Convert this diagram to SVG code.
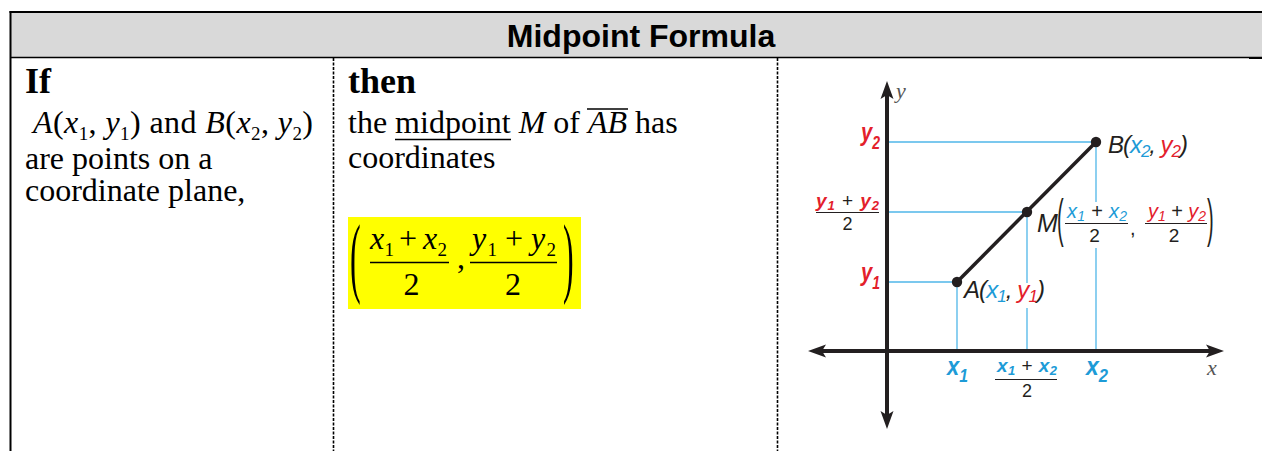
<svg xmlns="http://www.w3.org/2000/svg" xmlns:xlink="http://www.w3.org/1999/xlink" width="1262" height="451" viewBox="0 0 1262 451">
<style>
.serif{font-family:"Liberation Serif","Times New Roman",serif;fill:#000}
.body{font-size:32px}
.bold{font-weight:bold;font-size:36px}
.it{font-style:italic}
.sans{font-family:"Liberation Sans",Arial,sans-serif}
.dark{fill:#231f20}
.red{fill:#e3202b}
.blue{fill:#1d9bd7}
.guide{stroke:#4fb6e8;stroke-width:1.3;fill:none}
.divider{stroke:#000;stroke-width:1.6;stroke-dasharray:3 1.5}
.bar{stroke:#000;stroke-width:1.5}
.gbar{stroke:#231f20;stroke-width:1.2}
</style>
<defs>
<path id="ah" d="M0,0 L6.5,18 L0,14 L-6.5,18 Z" fill="#231f20"/>
</defs>
<rect width="1262" height="451" fill="#fff"/>

<g id="table">
<rect x="11" y="13" width="1251" height="44" fill="#d9d9d9"/>
<line x1="9.5" y1="12" x2="1262" y2="12" stroke="#000" stroke-width="2"/>
<line x1="10.5" y1="11" x2="10.5" y2="451" stroke="#000" stroke-width="2"/>
<line x1="10" y1="57.5" x2="1262" y2="57.5" stroke="#000" stroke-width="1.5"/>
<rect x="1249" y="57" width="13" height="2" fill="#000"/>
<line class="divider" x1="333.5" y1="58" x2="333.5" y2="451"/>
<line class="divider" x1="777.5" y1="58" x2="777.5" y2="451"/>
</g>

<g id="header">
<text x="641" y="47" text-anchor="middle" class="sans" font-weight="bold" font-size="32" fill="#000">Midpoint Formula</text>
</g>

<g id="col-if">
<text x="25" y="93" class="serif bold">If</text>
<text x="33" y="133" class="serif body" textLength="280" lengthAdjust="spacing"><tspan class="it">A</tspan>(<tspan class="it">x</tspan><tspan font-size="19" dy="7">1</tspan><tspan dy="-7">, </tspan><tspan class="it">y</tspan><tspan font-size="19" dy="7">1</tspan><tspan dy="-7">) and </tspan><tspan class="it">B</tspan>(<tspan class="it">x</tspan><tspan font-size="19" dy="7">2</tspan><tspan dy="-7">, </tspan><tspan class="it">y</tspan><tspan font-size="19" dy="7">2</tspan><tspan dy="-7">)</tspan></text>
<text x="25" y="169" class="serif body">are points on a</text>
<text x="25" y="201" class="serif body">coordinate plane,</text>
</g>

<g id="col-then">
<text x="348" y="93" class="serif bold">then</text>
<text x="348" y="133" class="serif body">the midpoint <tspan class="it">M</tspan> of <tspan class="it">AB</tspan> has</text>
<line x1="395" y1="139.5" x2="511" y2="139.5" stroke="#000" stroke-width="1.5"/>
<line x1="587" y1="109" x2="628" y2="109" stroke="#000" stroke-width="1.5"/>
<text x="348" y="168" class="serif body">coordinates</text>
</g>

<g id="formula">
<rect x="348" y="217" width="233" height="92" fill="#ffff00"/>
<text class="serif" font-size="32" transform="translate(350,286) scale(1,2.8)">(</text>
<text class="serif" font-size="32" y="249"><tspan x="370" class="it">x</tspan><tspan x="384.5" dy="7" font-size="19">1</tspan><tspan x="399" dy="-7">+</tspan><tspan x="423" class="it">x</tspan><tspan x="437.5" dy="7" font-size="19">2</tspan></text>
<line class="bar" x1="370" y1="262.5" x2="449" y2="262.5"/>
<text class="serif" font-size="32" x="411.5" y="295" text-anchor="middle">2</text>
<text class="serif" font-size="32" x="457" y="268">,</text>
<text class="serif" font-size="32" y="249"><tspan x="472" class="it">y</tspan><tspan x="487.5" dy="7" font-size="19">1</tspan><tspan x="505" dy="-7">+</tspan><tspan x="531" class="it">y</tspan><tspan x="546.5" dy="7" font-size="19">2</tspan></text>
<line class="bar" x1="470" y1="262.5" x2="557" y2="262.5"/>
<text class="serif" font-size="32" x="513" y="295" text-anchor="middle">2</text>
<text class="serif" font-size="32" transform="translate(563,286) scale(1,2.8)">)</text>
</g>

<g id="graph">
<g id="guides">
<line class="guide" x1="889" y1="142" x2="1096" y2="142"/>
<line class="guide" x1="889" y1="212" x2="1027" y2="212"/>
<line class="guide" x1="889" y1="282" x2="957" y2="282"/>
<line class="guide" x1="957" y1="282" x2="957" y2="349"/>
<line class="guide" x1="1027" y1="212" x2="1027" y2="283"/>
<line class="guide" x1="1027" y1="308" x2="1027" y2="349"/>
<line class="guide" x1="1096" y1="142" x2="1096" y2="202"/>
<line class="guide" x1="1096" y1="248" x2="1096" y2="349"/>
</g>
<g id="axes">
<line x1="887" y1="94" x2="887" y2="416" stroke="#231f20" stroke-width="4"/>
<line x1="821" y1="351" x2="1211" y2="351" stroke="#231f20" stroke-width="4"/>
<use xlink:href="#ah" href="#ah" transform="translate(887,81)"/>
<use xlink:href="#ah" href="#ah" transform="translate(887,429) rotate(180)"/>
<use xlink:href="#ah" href="#ah" transform="translate(808,351) rotate(-90)"/>
<use xlink:href="#ah" href="#ah" transform="translate(1224,351) rotate(90)"/>
<text x="896" y="98" class="serif it" font-size="22" style="fill:#555">y</text>
<text x="1207" y="375" class="serif it" font-size="22" style="fill:#555">x</text>
</g>
<g id="segment">
<line x1="957" y1="282" x2="1096" y2="142" stroke="#231f20" stroke-width="3.5"/>
<circle cx="957" cy="282" r="5.2" fill="#231f20"/>
<circle cx="1027" cy="212" r="5.2" fill="#231f20"/>
<circle cx="1096" cy="142" r="5.2" fill="#231f20"/>
</g>

<g id="label-y2">
<text x="861" y="141" class="sans red" font-weight="bold" font-style="italic" font-size="26" textLength="19" lengthAdjust="spacingAndGlyphs">y<tspan font-size="18" dy="8">2</tspan></text>
</g>
<g id="label-y1">
<text x="861" y="281" class="sans red" font-weight="bold" font-style="italic" font-size="26" textLength="19" lengthAdjust="spacingAndGlyphs">y<tspan font-size="18" dy="8">1</tspan></text>
</g>
<g id="label-ymid">
<text x="816" y="207" class="sans red" font-weight="bold" font-style="italic" font-size="19" textLength="63" lengthAdjust="spacing">y<tspan font-size="13" dy="3">1</tspan><tspan dy="-3" class="dark" font-weight="normal" font-style="normal"> + </tspan>y<tspan font-size="13" dy="3">2</tspan></text>
<line class="gbar" x1="816" y1="212.5" x2="879" y2="212.5"/>
<text x="847.5" y="230" text-anchor="middle" class="sans dark" font-size="18">2</text>
</g>

<g id="label-B">
<text x="1108" y="153" class="sans dark" font-style="italic" font-size="24" textLength="80" lengthAdjust="spacing">B(<tspan class="blue">x</tspan><tspan class="blue" font-size="17" dy="4">2</tspan><tspan dy="-4">, </tspan><tspan class="red">y</tspan><tspan class="red" font-size="17" dy="4">2</tspan><tspan dy="-4">)</tspan></text>
</g>

<g id="label-M">
<text x="1037" y="232" class="sans dark" font-style="italic" font-size="25">M</text>
<text class="sans dark" font-size="20" transform="translate(1057,236) scale(1,2.55)">(</text>
<text x="1067" y="218" class="sans blue" font-style="italic" font-size="20" textLength="60" lengthAdjust="spacing">x<tspan font-size="14" dy="3">1</tspan><tspan dy="-3" class="dark" font-style="normal"> + </tspan>x<tspan font-size="14" dy="3">2</tspan></text>
<line class="gbar" x1="1065" y1="223.5" x2="1128" y2="223.5"/>
<text x="1094.5" y="241.5" text-anchor="middle" class="sans dark" font-size="19">2</text>
<text x="1130" y="235" class="sans dark" font-size="20">,</text>
<text x="1148" y="218" class="sans red" font-style="italic" font-size="20" textLength="58" lengthAdjust="spacing">y<tspan font-size="14" dy="3">1</tspan><tspan dy="-3" class="dark" font-style="normal"> + </tspan>y<tspan font-size="14" dy="3">2</tspan></text>
<line class="gbar" x1="1145" y1="223.5" x2="1207" y2="223.5"/>
<text x="1174" y="241.5" text-anchor="middle" class="sans dark" font-size="19">2</text>
<text class="sans dark" font-size="20" transform="translate(1207,236) scale(1,2.55)">)</text>
</g>

<g id="label-A">
<text x="964" y="298" class="sans dark" font-style="italic" font-size="24" textLength="81" lengthAdjust="spacing">A(<tspan class="blue">x</tspan><tspan class="blue" font-size="17" dy="4">1</tspan><tspan dy="-4">, </tspan><tspan class="red">y</tspan><tspan class="red" font-size="17" dy="4">1</tspan><tspan dy="-4">)</tspan></text>
</g>

<g id="label-x1">
<text x="947" y="375" class="sans blue" font-weight="bold" font-style="italic" font-size="25" textLength="21" lengthAdjust="spacingAndGlyphs">x<tspan font-size="18" dy="7">1</tspan></text>
</g>
<g id="label-x2">
<text x="1086" y="375" class="sans blue" font-weight="bold" font-style="italic" font-size="25" textLength="22" lengthAdjust="spacingAndGlyphs">x<tspan font-size="18" dy="7">2</tspan></text>
</g>
<g id="label-xmid">
<text x="997" y="372" class="sans blue" font-weight="bold" font-style="italic" font-size="19" textLength="60" lengthAdjust="spacing">x<tspan font-size="13" dy="3">1</tspan><tspan dy="-3" class="dark" font-weight="normal" font-style="normal"> + </tspan>x<tspan font-size="13" dy="3">2</tspan></text>
<line class="gbar" x1="995" y1="379.5" x2="1057" y2="379.5"/>
<text x="1027" y="397" text-anchor="middle" class="sans dark" font-size="18">2</text>
</g>
</g>
</svg>
